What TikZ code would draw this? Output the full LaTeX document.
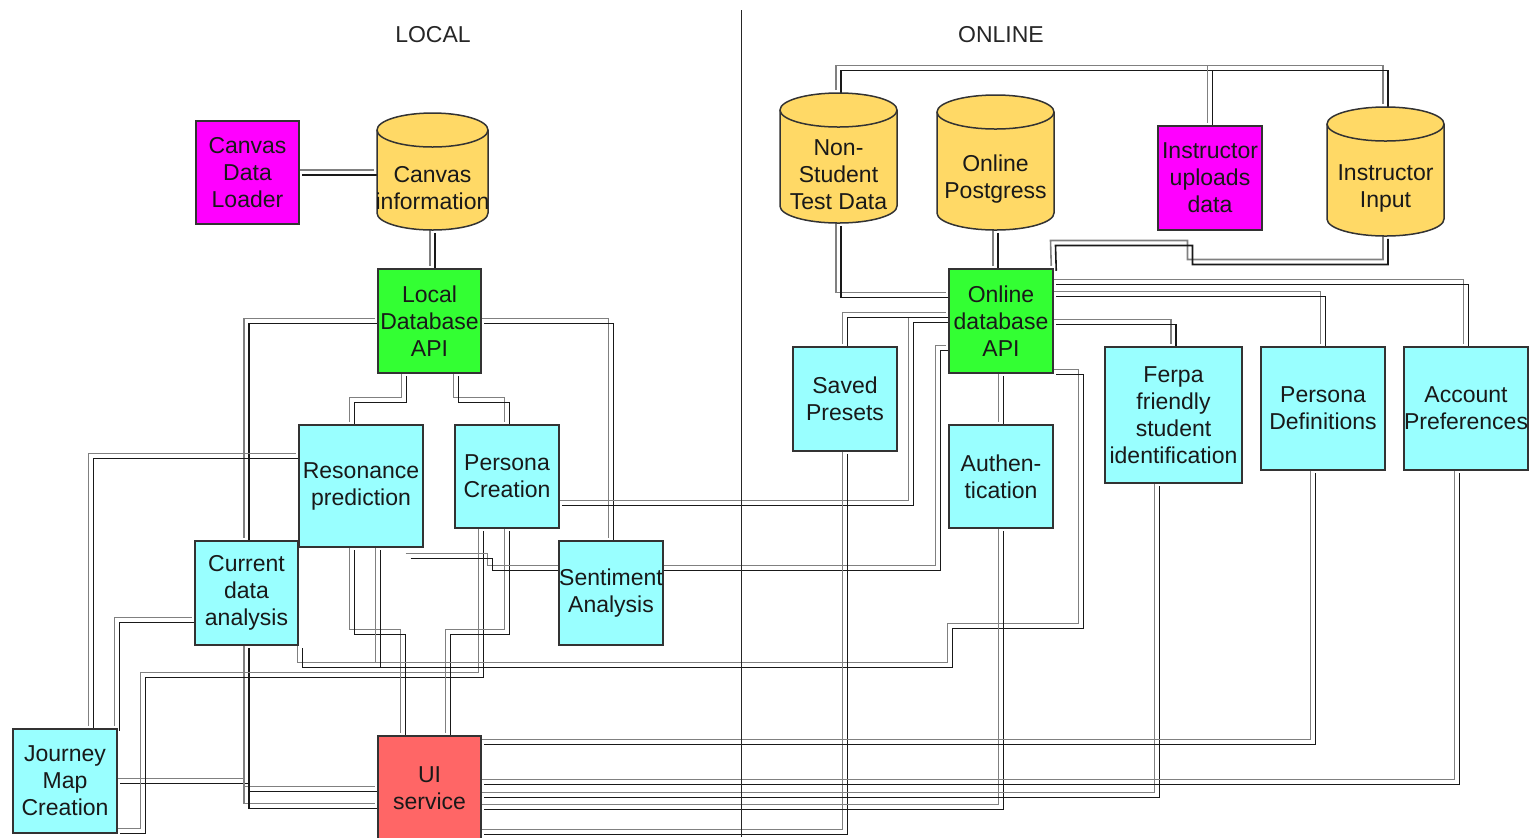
\documentclass[tikz,border=0pt]{standalone}
\usepackage{fontspec}
\setmainfont{Liberation Sans}
\usetikzlibrary{calc}
\pgfdeclarelayer{bg}
\pgfsetlayers{bg,main}
\definecolor{magbox}{HTML}{FF00FF}
\definecolor{dbyellow}{HTML}{FFD966}
\definecolor{apigreen}{HTML}{33FF33}
\definecolor{svccyan}{HTML}{99FFFF}
\definecolor{uired}{HTML}{FF6666}
\tikzset{
  boxtext/.style={align=center, inner sep=0pt, text=black!90,
    font=\fontsize{11.5}{13.5}\selectfont},
  box/.style={boxtext, draw=black!80, line width=0.75pt},
  sz/.style 2 args={minimum width={#1*0.5pt}, minimum height={#2*0.5pt}},
  cylbody/.style={fill=dbyellow, draw=black!80, line width=0.75pt},
  head/.style={inner sep=0pt, text=black!85, font=\fontsize{11.5}{13.5}\selectfont},
  divider/.style={draw=black!85, line width=0.5pt},
  wlight/.style={draw=black!50, line width=0.8pt, line join=miter,
    transform canvas={shift={(-1.25pt,1.25pt)}}},
  wdark/.style={draw=black!90, line width=0.8pt, line join=miter,
    transform canvas={shift={(1.25pt,-1.25pt)}}},
}
% a link is drawn as two parallel strokes
\newcommand\wire[1]{\draw[wlight] #1; \draw[wdark] #1;}
% database cylinder: name, left, top, right, bottom, label
\newcommand\dbcyl[6]{%
  \node[inner sep=0pt, minimum width={(#4-#2)*0.5pt}, minimum height={(#5-#3)*0.5pt}]
    (#1) at ({(#2+#4)/2},{(#3+#5)/2}) {};
  \filldraw[cylbody] (#2,#3+17) -- (#2,#5-17)
    arc[start angle=180, end angle=0, x radius={(#4-#2)/2}, y radius=17]
    -- (#4,#3+17)
    arc[start angle=0, end angle=-180, x radius={(#4-#2)/2}, y radius=17] -- cycle;
  \draw[cylbody, fill=none] (#2,#3+17)
    arc[start angle=180, end angle=0, x radius={(#4-#2)/2}, y radius=17];
  \node[boxtext] (#1-t) at ({(#2+#4)/2},{(#3+34+#5)/2}) {#6};
}
\begin{document}
\begin{tikzpicture}[x=0.5pt, y=-0.5pt]
\useasboundingbox (0,0) rectangle (1535,837);

% section headings and divider
\node[head] (hlocal) at (433,35) {LOCAL};
\node[head] (honline) at (1001,35) {ONLINE};
\coordinate (dtop) at (741,10);
\coordinate (dbot) at (741,837);
\draw[divider] (dtop) -- (dbot);

% local side
\node[box, fill=magbox, sz={103}{103}] (cdl) at (247.5,172.5) {Canvas\\Data\\Loader};
\dbcyl{cinfo}{377}{113}{488}{230}{Canvas\\information}
\node[box, fill=apigreen, sz={103}{104}] (ldb) at (429.5,321) {Local\\Database\\API};
\node[box, fill=svccyan, sz={124}{122}] (res) at (361,486) {Resonance\\prediction};
\node[box, fill=svccyan, sz={104}{103}] (pc) at (507,476.5) {Persona\\Creation};
\node[box, fill=svccyan, sz={103}{104}] (cda) at (246.5,593) {Current\\data\\analysis};
\node[box, fill=svccyan, sz={104}{104}] (sa) at (611,593) {Sentiment\\Analysis};
\node[box, fill=svccyan, sz={104}{104}] (jmc) at (65,781) {Journey\\Map\\Creation};
\node[box, fill=uired, sz={103}{104}] (ui) at (429.5,788) {UI\\service};

% online side
\dbcyl{nstd}{780}{93}{897}{223}{Non-\\Student\\Test Data}
\dbcyl{opg}{937}{95}{1054}{230}{Online\\Postgress}
\node[box, fill=magbox, sz={104}{104}] (iud) at (1210,178) {Instructor\\uploads\\data};
\dbcyl{ii}{1327}{107}{1444}{236}{Instructor\\Input}
\node[box, fill=apigreen, sz={104}{104}] (oda) at (1001,321) {Online\\database\\API};
\node[box, fill=svccyan, sz={104}{104}] (sp) at (845,399) {Saved\\Presets};
\node[box, fill=svccyan, sz={104}{103}] (auth) at (1001,476.5) {Authen-\\tication};
\node[box, fill=svccyan, sz={137}{136}] (ferpa) at (1173.5,415) {Ferpa\\friendly\\student\\identification};
\node[box, fill=svccyan, sz={124}{123}] (pd) at (1323,408.5) {Persona\\Definitions};
\node[box, fill=svccyan, sz={124}{123}] (ap) at (1466,408.5) {Account\\Preferences};

\coordinate (rstub) at (408,556);

\begin{pgfonlayer}{bg}
% local links
\wire{(cdl.east) -- (cdl.east -| cinfo.west)}
\wire{(cinfo.south) -- (cinfo.south |- ldb.north)}
\wire{(ldb.west) -| (cda.north)}
\wire{(ldb.east) -| (sa.north)}
\wire{(ldb.south -| 404,0) |- (352,400) -- (res.north -| 352,0)}
\wire{(ldb.south -| 456,0) |- (507,400) -- (pc.north)}
\wire{(res.west |- 0,456) -| (jmc.north -| 91,0)}
\wire{(cda.west |- 0,620) -| (jmc.north -| 117,0)}
\wire{(jmc.east) -- (247,781) |- (ui.west |- 0,789)}
\wire{(cda.south) |- (ui.west |- 0,806)}
\wire{(jmc.east |- 0,831) -| (143,675) -| (pc.south -| 481,0)}
\wire{(res.south -| 352,0) |- (403,632) -- (ui.north -| 403,0)}
\wire{(pc.south) |- (448,632) -- (ui.north -| 448,0)}
\wire{(cda.south -| 300,0) |- (950,665) |- (1081,626) |- (oda.east |- 0,372)}
\wire{(res.south -| 378,0) |- (950,665) |- (1081,626) |- (oda.east |- 0,372)}
\wire{(rstub) -- (490,556) |- (938,568) |- (oda.west |- 0,348)}
\wire{(pc.east |- 0,503) -| (911,320) -- (oda.west |- 0,320)}

% online links
\wire{(oda.west |- 0,315) -| (sp.north)}
\wire{(nstd.south) |- (oda.west |- 0,295)}
\wire{(opg.south) -- (opg.south |- oda.north)}
\wire{(ii.south) |- (1190,262) |- (1053,243) -- (oda.north east)}
\wire{(oda.east |- 0,282) -| (ap.north)}
\wire{(oda.east |- 0,294) -| (pd.north)}
\wire{(oda.east |- 0,322) -| (ferpa.north)}
\wire{(oda.south) -- (auth.north)}
\wire{(nstd.north) |- (ii.north |- 0,68) -- (ii.north)}
\wire{(iud.north) -- (iud.north |- 0,68)}

% links into the UI service
\wire{(sp.south) |- (ui.east |- 0,832)}
\wire{(auth.south) |- (ui.east |- 0,807)}
\wire{(ferpa.south -| 1157,0) |- (ui.east |- 0,795)}
\wire{(pd.south -| 1313,0) |- (ui.east |- 0,742)}
\wire{(ap.south -| 1457,0) |- (ui.east |- 0,782)}
\end{pgfonlayer}
\end{tikzpicture}
\end{document}
